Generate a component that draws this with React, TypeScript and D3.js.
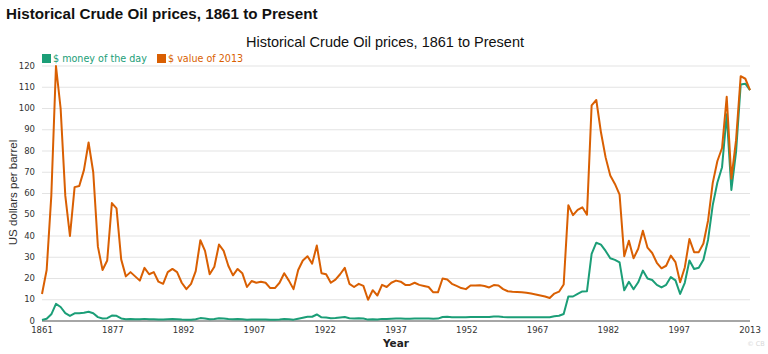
import React, { useRef, useEffect } from "react";
import * as d3 from "d3";

// years 1861..2013
const startYear = 1861;
const endYear = 2013;

// money of the day ($/bbl)
const nominal = [
  0.49, 1.05, 3.15, 8.06, 6.59, 3.74, 2.41, 3.63, 3.64, 3.86,
  4.34, 3.64, 1.83, 1.17, 1.35, 2.56, 2.42, 1.19, 0.86, 0.95,
  0.86, 0.78, 1.0, 0.84, 0.88, 0.71, 0.67, 0.88, 0.94, 0.87,
  0.67, 0.56, 0.64, 0.84, 1.36, 1.18, 0.79, 0.91, 1.29, 1.19,
  0.96, 0.8, 0.94, 0.86, 0.62, 0.73, 0.72, 0.72, 0.7, 0.61,
  0.61, 0.74, 0.95, 0.81, 0.64, 1.1, 1.56, 1.98, 2.01, 3.07,
  1.73, 1.61, 1.34, 1.43, 1.68, 1.88, 1.3, 1.17, 1.27, 1.19,
  0.65, 0.87, 0.67, 1.0, 0.97, 1.09, 1.18, 1.13, 1.02, 1.02,
  1.14, 1.19, 1.2, 1.21, 1.05, 1.12, 1.9, 1.99, 1.78, 1.71,
  1.71, 1.71, 1.93, 1.93, 1.93, 1.93, 1.9, 2.08, 2.08, 1.9,
  1.8, 1.8, 1.8, 1.8, 1.8, 1.8, 1.8, 1.8, 1.8, 1.8,
  2.24, 2.48, 3.29, 11.58, 11.53, 12.8, 13.92, 14.02, 31.61, 36.83,
  35.93, 32.97, 29.55, 28.78, 27.56, 14.43, 18.44, 14.92, 18.23, 23.73,
  20.0, 19.32, 16.97, 15.82, 17.02, 20.67, 19.09, 12.72, 17.97, 28.5,
  24.44, 25.02, 28.83, 38.27, 54.52, 65.14, 72.39, 97.26, 61.67, 79.5,
  111.26, 111.67, 108.66,
];

// value of 2013 ($/bbl)
const real2013 = [
  12.7, 24.0, 59.0, 120.0, 100.0, 59.0, 40.0, 63.0, 63.5, 71.0,
  84.0, 70.0, 35.0, 24.0, 28.5, 55.5, 53.0, 29.0, 21.0, 23.0,
  21.0, 19.0, 25.0, 22.0, 23.0, 18.5, 17.5, 23.0, 24.5, 23.0,
  18.0, 15.0, 17.5, 23.5, 38.0, 33.0, 22.0, 25.5, 36.0, 33.0,
  26.0, 21.5, 24.5, 22.5, 16.0, 18.8, 18.0, 18.5, 18.0, 15.5,
  15.5, 18.0, 22.5, 19.0, 15.0, 24.0, 28.5, 30.5, 27.0, 35.5,
  22.5, 22.0, 18.0, 19.5, 22.0, 25.0, 17.5, 16.0, 17.5, 16.5,
  10.0, 14.5, 12.0, 17.0, 16.0, 18.0, 19.0, 18.5, 17.0, 17.0,
  18.0, 17.0, 16.5, 16.0, 13.5, 13.5, 20.0, 19.5, 17.5, 16.5,
  15.5, 15.0, 16.7, 16.7, 16.8, 16.5, 15.8, 16.9, 16.7, 15.0,
  14.0, 13.8, 13.7, 13.5, 13.3, 12.9, 12.5, 12.0, 11.5, 10.8,
  12.9, 13.8, 17.2, 54.5, 49.8, 52.3, 53.5, 50.0, 101.5, 104.0,
  88.8, 77.0, 68.5, 64.5, 59.5, 30.5, 37.8, 29.5, 34.0, 42.5,
  34.5, 32.0, 27.4, 24.8, 26.0, 30.8, 27.7, 18.2, 25.2, 38.6,
  32.4, 32.4, 36.5, 47.3, 65.0, 75.3, 81.4, 105.5, 67.0, 85.0,
  115.2, 114.0, 108.66,
];

const seriesNames = ["$ money of the day", "$ value of 2013"];
const seriesColors = ["#1b9e77", "#d95f02"];
const xTickLabels = ["1861", "1877", "1892", "1907", "1922", "1937", "1952", "1967", "1982", "1997", "2013"];
const yTicks = [0, 10, 20, 30, 40, 50, 60, 70, 80, 90, 100, 110, 120];

const W = 768;
const H = 354;

const App = () => {
  const svgRef = useRef<SVGSVGElement>(null);

  useEffect(() => {
    const svg = d3.select(svgRef.current);
    svg.selectAll("*").remove();

    const margin = { top: 66, right: 18, bottom: 33, left: 42 };
    const width = W - margin.left - margin.right;
    const height = H - margin.top - margin.bottom;

    const years = d3.range(startYear, endYear + 1);
    const x = d3.scaleLinear().domain([startYear, endYear]).range([0, width]);
    const y = d3.scaleLinear().domain([0, 120]).range([height, 0]);

    // page header
    svg
      .append("text")
      .attr("x", 6)
      .attr("y", 19)
      .attr("font-family", "Liberation Sans, Arial, sans-serif")
      .attr("font-weight", "bold")
      .attr("font-size", 15.2)
      .attr("fill", "#111")
      .text("Historical Crude Oil prices, 1861 to Present");

    // chart title
    svg
      .append("text")
      .attr("x", 385)
      .attr("y", 47)
      .attr("text-anchor", "middle")
      .attr("font-family", "Liberation Sans, Arial, sans-serif")
      .attr("font-size", 14.5)
      .attr("fill", "#111")
      .text("Historical Crude Oil prices, 1861 to Present");

    const g = svg.append("g").attr("transform", `translate(${margin.left},${margin.top})`);

    // gridlines
    g.selectAll(".grid")
      .data(yTicks.filter((d) => d > 0))
      .enter()
      .append("line")
      .attr("x1", 0)
      .attr("x2", width)
      .attr("y1", (d) => y(d))
      .attr("y2", (d) => y(d))
      .attr("stroke", "#e3e3e3")
      .attr("stroke-width", 1.2);

    // y tick labels
    g.selectAll(".ylab")
      .data(yTicks)
      .enter()
      .append("text")
      .attr("x", -7)
      .attr("y", (d) => y(d) + 2.5)
      .attr("text-anchor", "end")
      .attr("font-family", "DejaVu Sans, Verdana, sans-serif")
      .attr("font-size", 8.5)
      .attr("fill", "#333")
      .text((d) => d);

    // x axis: evenly spaced ticks
    const xTickVals = xTickLabels.map((_, i) => startYear + (i * (endYear - startYear)) / (xTickLabels.length - 1));
    g.append("line")
      .attr("x1", 0)
      .attr("x2", width)
      .attr("y1", height)
      .attr("y2", height)
      .attr("stroke", "#888")
      .attr("stroke-width", 1.3);

    g.selectAll(".xlab")
      .data(xTickVals)
      .enter()
      .append("text")
      .attr("x", (d) => x(d))
      .attr("y", height + 11.5)
      .attr("text-anchor", "middle")
      .attr("font-family", "DejaVu Sans, Verdana, sans-serif")
      .attr("font-size", 8.5)
      .attr("fill", "#333")
      .text((_, i) => xTickLabels[i]);

    // lines
    const line = d3
      .line<number>()
      .x((_, i) => x(years[i]))
      .y((d) => y(d));

    [nominal, real2013].forEach((vals, k) => {
      g.append("path")
        .datum(vals)
        .attr("d", line)
        .attr("fill", "none")
        .attr("stroke", seriesColors[k])
        .attr("stroke-width", 2)
        .attr("stroke-linejoin", "round");
    });

    // legend
    const legendX = [42, 157];
    seriesNames.forEach((name, k) => {
      svg
        .append("rect")
        .attr("x", legendX[k])
        .attr("y", 54)
        .attr("width", 9)
        .attr("height", 9)
        .attr("fill", seriesColors[k]);
      svg
        .append("text")
        .attr("x", legendX[k] + 11)
        .attr("y", 62)
        .attr("font-family", "DejaVu Sans, Verdana, sans-serif")
        .attr("font-size", 9.6)
        .attr("fill", seriesColors[k])
        .text(name);
    });

    // axis titles
    svg
      .append("text")
      .attr("transform", `translate(17,${margin.top + height / 2 - 1}) rotate(-90)`)
      .attr("text-anchor", "middle")
      .attr("font-family", "Liberation Sans, Arial, sans-serif")
      .attr("font-size", 11.5)
      .attr("fill", "#333")
      .text("US dollars per barrel");

    svg
      .append("text")
      .attr("x", margin.left + width / 2)
      .attr("y", 347)
      .attr("text-anchor", "middle")
      .attr("font-family", "DejaVu Sans, Verdana, sans-serif")
      .attr("font-weight", "bold")
      .attr("font-size", 10.5)
      .attr("fill", "#222")
      .text("Year");

    // watermark
    svg
      .append("text")
      .attr("x", 756)
      .attr("y", 346)
      .attr("text-anchor", "middle")
      .attr("font-family", "DejaVu Sans, Verdana, sans-serif")
      .attr("font-size", 6.5)
      .attr("fill", "#d8d8d8")
      .text("© CB");
  }, []);

  return (
    <div style={{ position: "fixed", left: 0, top: 0 }}>
      <svg ref={svgRef} width={W} height={H} style={{ display: "block", background: "#fff" }} />
    </div>
  );
};

export default App;
